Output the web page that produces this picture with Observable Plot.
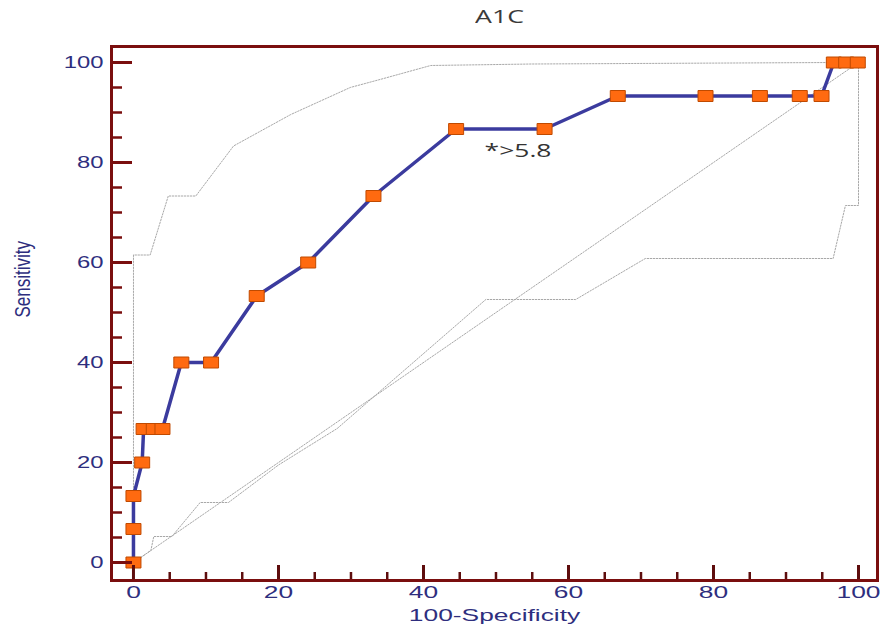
<!DOCTYPE html>
<html><head><meta charset="utf-8">
<script src="https://cdn.jsdelivr.net/npm/d3@7"></script>
<script src="https://cdn.jsdelivr.net/npm/@observablehq/plot@0.6"></script>
<style>
body{margin:0;background:#fff;}
#title{height:30px;line-height:32px;width:884px;box-sizing:border-box;padding-left:116px;text-align:center;font-family:"Open Sans";font-size:18px;color:#3a3a3a;}
#title span{display:inline-block;transform:scaleX(1.48);}
</style></head><body>
<div id="title"><span></span></div>
<div id="chart"></div>
<script>
// ---- text ----
const titleText = "A1C";
const xLabel = "100-Specificity";
const yLabel = "Sensitivity";
const criterionLabel = "*>5.8";
const criterionIndex = 12;

// ---- ROC curve (100-Specificity, Sensitivity) ----
const rocX = [0, 0, 0, 1.2, 1.4, 2.8, 4.0, 6.6, 10.7, 17.0, 24.1, 33.1, 44.5, 56.7, 66.8, 78.9, 86.4, 91.9, 94.9, 96.6, 98.3, 99.9];
const rocY = [0, 6.7, 13.3, 20, 26.7, 26.7, 26.7, 40, 40, 53.3, 60, 73.3, 86.7, 86.7, 93.3, 93.3, 93.3, 93.3, 93.3, 100, 100, 100];

// ---- confidence bounds ----
const upX = [0, 0, 2.3, 4.8, 8.6, 13.8, 21.7, 29.9, 34, 41, 55, 96.6];
const upY = [0, 61.5, 61.5, 73.3, 73.3, 83.3, 89.6, 95, 96.6, 99.4, 99.7, 100];
const loX = [0, 2.4, 2.8, 5.3, 9.2, 13.1, 20, 28.1, 48.6, 61, 70.6, 96.5, 98.2, 100, 100];
const loY = [0, 2.4, 5.2, 5.2, 12, 12, 19.5, 26.8, 52.6, 52.6, 60.8, 60.8, 71.4, 71.4, 100];

// ---- reference diagonal ----
const diagX = [0, 100];
const diagY = [0, 100];

// ---- ticks ----
const xMajor = [0, 20, 40, 60, 80, 100];
const xMinor = [5, 10, 15, 25, 30, 35, 45, 50, 55, 65, 70, 75, 85, 90, 95];
const yMajor = [0, 20, 40, 60, 80, 100];
const yMinor = [5, 10, 15, 25, 30, 35, 45, 50, 55, 65, 70, 75, 85, 90, 95];

document.querySelector("#title span").textContent = titleText;

const pts = (xs, ys) => xs.map((x, i) => ({x, y: ys[i]}));
const roc = pts(rocX, rocY);
const upper = pts(upX, upY);
const lower = pts(loX, loY);
const diag = pts(diagX, diagY);

const W = 884, H = 604, mL = 111, mR = 7, mT = 16, mB = 54;
const xDom = [-3.03, 102.62], yDom = [-3.6, 103.2];
const pxX = (W - mL - mR) / (xDom[1] - xDom[0]);
const pxY = (H - mT - mB) / (yDom[1] - yDom[0]);

const navy = "#2e2e7e";
const maroon = "#7a0e0e";
const tickCol = "#5e0d0d";
const dotted = {stroke: "#a8a8a8", strokeWidth: 1, strokeDasharray: "1.5,1.5"};

const rectSymbol = {draw(ctx) { ctx.rect(-7.5, -5.5, 15, 11); }};

const chart = Plot.plot({
  width: W, height: H,
  marginLeft: mL, marginRight: mR, marginTop: mT, marginBottom: mB,
  style: {fontFamily: "Liberation Sans, Arial, sans-serif", fontSize: "17px", color: navy, background: "#fff"},
  x: {domain: xDom},
  y: {domain: yDom},
  marks: [
    Plot.line(diag, {x: "x", y: "y", ...dotted}),
    Plot.line(upper, {x: "x", y: "y", ...dotted}),
    Plot.line(lower, {x: "x", y: "y", ...dotted}),
    Plot.line(roc, {x: "x", y: "y", stroke: "#3b3b9e", strokeWidth: 3.5, strokeLinejoin: "round"}),
    Plot.dot(roc, {x: "x", y: "y", symbol: rectSymbol, fill: "#ff6a10", stroke: "#c04a00", strokeWidth: 1}),
    Plot.text([criterionIndex], {x: i => rocX[i], y: i => rocY[i], text: () => criterionLabel, dx: 28.5, dy: 22,
      textAnchor: "start", fontFamily: "Open Sans", fontSize: 18, fill: "#333"}),
    Plot.ruleX(xMajor, {x: d => d, y1: yDom[0], y2: yDom[0] + 15 / pxY, stroke: tickCol, strokeWidth: 3}),
    Plot.ruleX(xMinor, {x: d => d, y1: yDom[0], y2: yDom[0] + 8 / pxY, stroke: tickCol, strokeWidth: 2.5}),
    Plot.ruleY(yMajor, {y: d => d, x1: xDom[0], x2: xDom[0] + 21 / pxX, stroke: maroon, strokeWidth: 3}),
    Plot.ruleY(yMinor, {y: d => d, x1: xDom[0], x2: xDom[0] + 11 / pxX, stroke: maroon, strokeWidth: 2.5}),
    Plot.frame({stroke: maroon, strokeWidth: 3}),
    Plot.axisX({ticks: xMajor, tickSize: 0, tickPadding: 5, label: null, tickFormat: d => String(d)}),
    Plot.axisY({ticks: yMajor, tickSize: 0, tickPadding: 8, label: null, tickFormat: d => String(d)}),
    Plot.text([xLabel], {frameAnchor: "bottom", dy: 40, text: d => d, fill: navy, fontSize: 17}),
    Plot.text([yLabel], {frameAnchor: "left", dx: -89, dy: 4, rotate: -90, text: d => d, fill: navy, fontSize: 17})
  ]
});
document.getElementById("chart").appendChild(chart);

function stretchEl(t, k) {
  const w = t.getComputedTextLength();
  t.setAttribute("textLength", (w * k).toFixed(1));
  t.setAttribute("lengthAdjust", "spacingAndGlyphs");
}
chart.querySelectorAll('g[aria-label="x-axis tick label"] text').forEach(t => stretchEl(t, 1.55));
chart.querySelectorAll('g[aria-label="y-axis tick label"] text').forEach(t => stretchEl(t, 1.4));
chart.querySelectorAll("text").forEach(t => {
  if (t.textContent === xLabel) stretchEl(t, 1.55);
  else if (t.textContent === criterionLabel) stretchEl(t, 1.47);
  else if (t.textContent === yLabel) {
    const tr = t.getAttribute("transform");
    if (tr && tr.includes("rotate")) t.setAttribute("transform", tr + " scale(1,1.35)");
  }
});
</script>
</body></html>
